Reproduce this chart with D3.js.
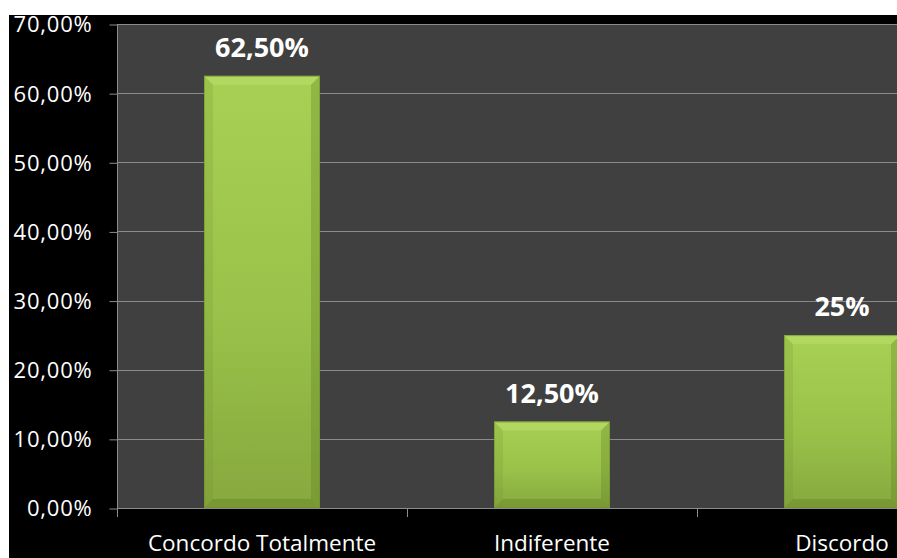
<!DOCTYPE html>
<html>
<head>
<meta charset="utf-8">
<script src="https://cdn.jsdelivr.net/npm/d3@7/dist/d3.min.js"></script>
<style>
  html, body { margin: 0; padding: 0; background: #ffffff; overflow: hidden; }
  svg { display: block; }
</style>
</head>
<body>
<script>
// Survey answers and their shares (percent)
const categories = ["Concordo Totalmente", "Indiferente", "Discordo"];
const values = [62.5, 12.5, 25];
const valueLabels = ["62,50%", "12,50%", "25%"];
const yTicks = [0, 10, 20, 30, 40, 50, 60, 70];
const yTickLabels = ["0,00%", "10,00%", "20,00%", "30,00%", "40,00%", "50,00%", "60,00%", "70,00%"];

const W = 897, H = 558;
const plot = { left: 117, top: 24, right: 987, bottom: 508 };

const svg = d3.select("body").append("svg")
  .attr("width", W).attr("height", H);

const defs = svg.append("defs");
const grad = defs.append("linearGradient")
  .attr("id", "barFill").attr("x1", 0).attr("y1", 0).attr("x2", 0).attr("y2", 1);
grad.append("stop").attr("offset", "0%").attr("stop-color", "#a7d054");
grad.append("stop").attr("offset", "55%").attr("stop-color", "#9ac24a");
grad.append("stop").attr("offset", "100%").attr("stop-color", "#87a83e");

const clip = defs.append("clipPath").attr("id", "frame");
clip.append("rect").attr("x", 0).attr("y", 0).attr("width", W).attr("height", H);

// black chart area
svg.append("rect").attr("x", 9).attr("y", 15).attr("width", W - 9).attr("height", H - 15)
  .attr("fill", "#000000");

// plot background
svg.append("rect").attr("x", plot.left).attr("y", plot.top)
  .attr("width", W - plot.left).attr("height", plot.bottom - plot.top)
  .attr("fill", "#404040");

const x = d3.scaleBand().domain(categories).range([plot.left, plot.right])
  .paddingInner(0.6).paddingOuter(0.3);
const y = d3.scaleLinear().domain([0, 70]).range([plot.bottom, plot.top]);

// gridlines
svg.append("g").selectAll("line").data(yTicks.filter(d => d > 0)).join("line")
  .attr("x1", plot.left).attr("x2", W)
  .attr("y1", d => Math.round(y(d)) + 0.5).attr("y2", d => Math.round(y(d)) + 0.5)
  .attr("stroke", "#8a8a8a").attr("stroke-width", 1);

// y axis
const yAxis = svg.append("g")
  .attr("transform", `translate(${plot.left + 0.5},0)`)
  .call(d3.axisLeft(y).tickValues(yTicks)
    .tickFormat((d, i) => yTickLabels[i]).tickSize(8).tickPadding(17));
yAxis.select(".domain").attr("stroke", "#8c8c8c").attr("d", `M0,${plot.top}V${plot.bottom + 5}`);
yAxis.selectAll(".tick line").attr("stroke", "#8c8c8c")
  .attr("transform", "translate(0,0.5)");
yAxis.selectAll("text")
  .attr("fill", "#ffffff")
  .style("font-family", "'Open Sans', sans-serif")
  .style("font-size", "22px")
  .style("letter-spacing", "0.8px")
  .attr("dy", "0.36em");

// x axis (tick marks sit on category boundaries)
const step = x.step();
const xBounds = d3.range(categories.length + 1).map(i => plot.left + i * step);
const xAxisG = svg.append("g");
xAxisG.append("line")
  .attr("x1", plot.left).attr("x2", W)
  .attr("y1", plot.bottom + 0.5).attr("y2", plot.bottom + 0.5)
  .attr("stroke", "#8c8c8c");
xAxisG.selectAll("line.tk").data(xBounds).join("line").attr("class", "tk")
  .attr("x1", d => Math.round(d) + 0.5).attr("x2", d => Math.round(d) + 0.5)
  .attr("y1", plot.bottom).attr("y2", plot.bottom + 9)
  .attr("stroke", "#8c8c8c");
xAxisG.selectAll("text").data(categories).join("text")
  .attr("x", d => x(d) + x.bandwidth() / 2)
  .attr("y", 551)
  .attr("text-anchor", "middle")
  .attr("fill", "#ffffff")
  .style("font-family", "'Open Sans', sans-serif")
  .style("font-size", "22.5px")
  .text(d => d);

// bars with a bevelled look
const bars = svg.append("g").attr("clip-path", "url(#frame)")
  .selectAll("g.bar").data(categories).join("g").attr("class", "bar");
const bev = 9;
bars.each(function (c, i) {
  const g = d3.select(this);
  const x0 = x(c), w = x.bandwidth();
  const y0 = y(values[i]), y1 = y(0), h = y1 - y0;
  g.append("rect").attr("x", x0).attr("y", y0).attr("width", w).attr("height", h)
    .attr("fill", "url(#barFill)");
  // top bevel (light)
  g.append("path")
    .attr("d", `M${x0},${y0}L${x0 + w},${y0}L${x0 + w - bev},${y0 + bev}L${x0 + bev},${y0 + bev}Z`)
    .attr("fill", "#d4f08a").attr("opacity", 0.28);
  // left bevel
  g.append("path")
    .attr("d", `M${x0},${y0}L${x0 + bev},${y0 + bev}L${x0 + bev},${y1 - bev}L${x0},${y1}Z`)
    .attr("fill", "#6d8a2a").attr("opacity", 0.18);
  // right bevel
  g.append("path")
    .attr("d", `M${x0 + w},${y0}L${x0 + w - bev},${y0 + bev}L${x0 + w - bev},${y1 - bev}L${x0 + w},${y1}Z`)
    .attr("fill", "#5a7522").attr("opacity", 0.28);
  // bottom bevel
  g.append("path")
    .attr("d", `M${x0},${y1}L${x0 + bev},${y1 - bev}L${x0 + w - bev},${y1 - bev}L${x0 + w},${y1}Z`)
    .attr("fill", "#5a7522").attr("opacity", 0.32);
  // thin outline
  g.append("rect").attr("x", x0 + 0.5).attr("y", y0 + 0.5).attr("width", w - 1).attr("height", h - 1)
    .attr("fill", "none").attr("stroke", "#6f8f2c").attr("stroke-opacity", 0.6);
});

// value labels
svg.append("g").selectAll("text").data(categories).join("text")
  .attr("x", d => x(d) + x.bandwidth() / 2)
  .attr("y", (d, i) => y(values[i]) - 19)
  .attr("text-anchor", "middle")
  .attr("fill", "#ffffff")
  .style("font-family", "'Open Sans', sans-serif")
  .style("font-weight", "bold")
  .style("font-size", "27px")
  .text((d, i) => valueLabels[i]);
</script>
</body>
</html>
